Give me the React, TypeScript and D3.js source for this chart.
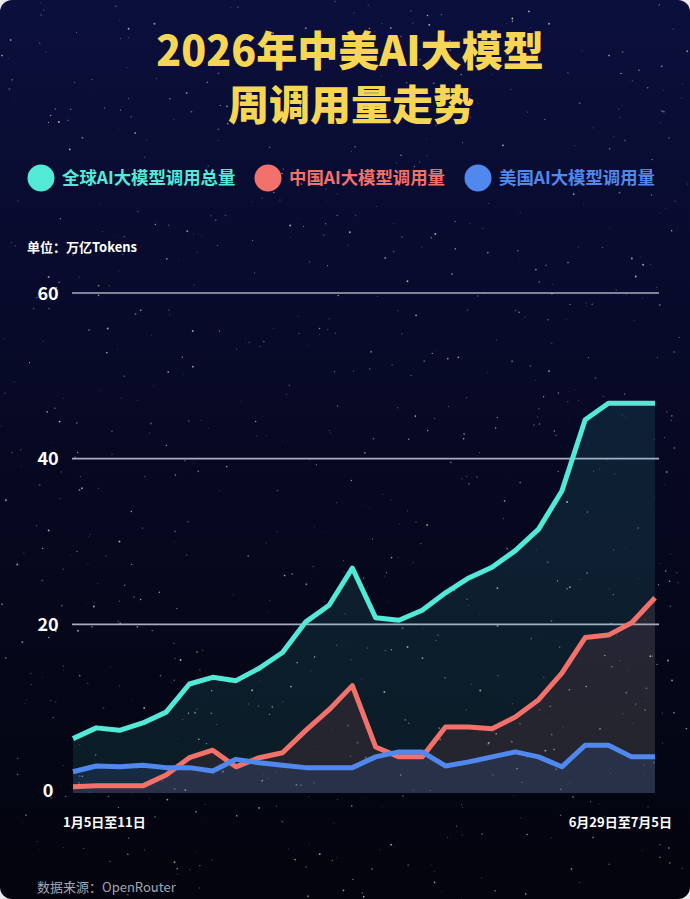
import React from "react";
import * as d3 from "d3";

const weeks: number[] = d3.range(26);
const xTickLabels = ["1月5日至11日", "6月29日至7月5日"];
const yTicks = [0, 20, 40, 60];

const globalUsage = [6.2, 7.5, 7.2, 8.1, 9.4, 12.8, 13.6, 13.2, 14.7, 16.6, 20.3, 22.3, 26.8, 20.8, 20.5, 21.7, 23.8, 25.6, 26.9, 28.9, 31.5, 36.1, 44.7, 46.7, 46.7, 46.7];
const chinaUsage = [0.4, 0.5, 0.5, 0.5, 1.8, 3.9, 4.8, 2.8, 3.9, 4.5, 7.2, 9.7, 12.6, 5.2, 4.0, 4.0, 7.6, 7.6, 7.4, 8.8, 10.9, 14.1, 18.4, 18.7, 20.2, 23.2];
const usUsage = [2.2, 2.9, 2.8, 3.0, 2.7, 2.7, 2.3, 3.7, 3.3, 3.0, 2.7, 2.7, 2.7, 4.0, 4.6, 4.6, 2.9, 3.4, 4.0, 4.6, 4.0, 2.8, 5.4, 5.4, 4.0, 4.0];

const seriesNames = ["全球AI大模型调用总量", "中国AI大模型调用量", "美国AI大模型调用量"];
const seriesColors = ["#52ead6", "#f2716a", "#5088ee"];

const W = 690;
const H = 899;
const FONT = "'Noto Sans CJK SC', 'Noto Sans', sans-serif";

function makeStars() {
  let s = 12345;
  const rnd = () => {
    s = (s * 1103515245 + 12345) % 2147483648;
    return s / 2147483648;
  };
  const out: { x: number; y: number; r: number; o: number }[] = [];
  for (let i = 0; i < 900; i++) {
    out.push({ x: rnd() * W, y: rnd() * H, r: 0.3 + rnd() * 0.7, o: 0.15 + rnd() * 0.55 });
  }
  return out;
}
const stars = makeStars();

export default function App() {
  const x = d3.scaleLinear().domain([0, 25]).range([73, 655]);
  const y = d3.scaleLinear().domain([0, 60]).range([790, 293]);
  const base = y(0) + 3;

  const data = [globalUsage, chinaUsage, usUsage];
  const line = d3
    .line<number>()
    .x((_, i) => x(weeks[i]))
    .y((d) => y(d));
  const area = d3
    .area<number>()
    .x((_, i) => x(weeks[i]))
    .y0(base)
    .y1((d) => y(d));

  const areaOpacity = [0.1, 0.11, 0.14];
  const legendX = [41, 268, 478];

  return (
    <svg
      width={W}
      height={H}
      style={{ position: "absolute", left: 0, top: 0, display: "block", background: "#e9e9ee" }}
    >
      <defs>
        <linearGradient id="bg" x1="0" y1="0" x2="0" y2="1">
          <stop offset="0" stopColor="#0b0f3c" />
          <stop offset="0.45" stopColor="#070925" />
          <stop offset="1" stopColor="#03040d" />
        </linearGradient>
      </defs>
      <rect x={0} y={0} width={W} height={H} rx={12} fill="url(#bg)" />
      <g>
        {stars.map((st, i) => (
          <circle key={i} cx={st.x} cy={st.y} r={st.r} fill="#ffffff" opacity={st.o} />
        ))}
      </g>

      <g fontFamily={FONT} fontWeight={900} fill="#f6d654" textAnchor="middle" fontSize={41}>
        <text x={350} y={66}>2026年中美AI大模型</text>
        <text x={351} y={120}>周调用量走势</text>
      </g>

      <g fontFamily={FONT} fontWeight={700} fontSize={17.4}>
        {seriesNames.map((n, i) => (
          <g key={n}>
            <circle cx={legendX[i]} cy={178} r={13.5} fill={seriesColors[i]} />
            <text x={legendX[i] + 21} y={184} fill={seriesColors[i]}>
              {n}
            </text>
          </g>
        ))}
      </g>

      <text x={27} y={252} fontFamily={FONT} fontWeight={700} fontSize={13} fill="#ffffff">
        单位：万亿Tokens
      </text>

      <g>
        {yTicks.map((t) => (
          <g key={t}>
            {t > 0 && (
              <line x1={72} x2={659} y1={y(t)} y2={y(t)} stroke="#a9abc0" strokeWidth={1.6} />
            )}
            <text
              x={48}
              y={y(t) + 6.5}
              textAnchor="middle"
              fontFamily={FONT}
              fontWeight={700}
              fontSize={18}
              fill="#ffffff"
            >
              {t}
            </text>
          </g>
        ))}
      </g>

      <g>
        {data.map((d, i) => (
          <path key={i} d={area(d) || ""} fill={seriesColors[i]} opacity={areaOpacity[i]} />
        ))}
      </g>
      <g fill="none" strokeWidth={5} strokeLinejoin="round">
        <path d={line(chinaUsage) || ""} stroke={seriesColors[1]} />
        <path d={line(usUsage) || ""} stroke={seriesColors[2]} />
        <path d={line(globalUsage) || ""} stroke={seriesColors[0]} />
      </g>

      <g fontFamily={FONT} fontWeight={700} fontSize={13} fill="#ffffff">
        <text x={x(0) - 10} y={827}>{xTickLabels[0]}</text>
        <text x={x(25) + 17} y={827} textAnchor="end">{xTickLabels[1]}</text>
      </g>

      <text x={37} y={892} fontFamily={FONT} fontSize={13} fill="#a3a6b4">
        数据来源：OpenRouter
      </text>
    </svg>
  );
}
